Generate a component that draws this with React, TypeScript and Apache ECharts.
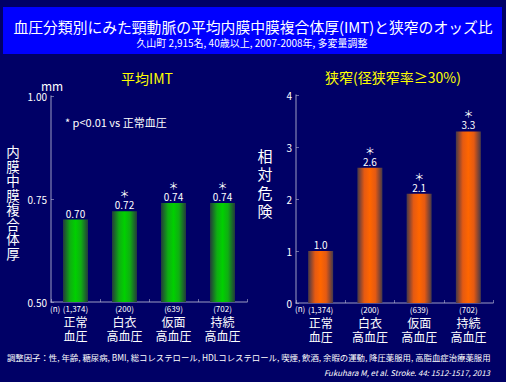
import React, { useEffect, useRef } from "react";
import * as echarts from "echarts";

const categories = ["正常\n血圧", "白衣\n高血圧", "仮面\n高血圧", "持続\n高血圧"];
const nLabels = ["(1,374)", "(200)", "(639)", "(702)"];
const imtValues = [0.7, 0.72, 0.74, 0.74];
const imtSig = [false, true, true, true];
const orValues = [1.0, 2.6, 2.1, 3.3];
const orSig = [false, true, true, true];
const imtTicks = { min: 0.5, max: 1.0, interval: 0.25 };
const orTicks = { min: 0, max: 4, interval: 1 };

const FONT = "'Noto Sans CJK JP', 'Noto Sans', sans-serif";
const BG = "#000066";
const AXIS = "rgba(190,190,215,0.55)";

function barGradient(edge: string, mid: string, center: string) {
  return new echarts.graphic.LinearGradient(0, 0, 1, 0, [
    { offset: 0, color: edge },
    { offset: 0.28, color: mid },
    { offset: 0.5, color: center },
    { offset: 0.72, color: mid },
    { offset: 1, color: edge },
  ]);
}

export default function App() {
  const ref = useRef<HTMLDivElement>(null);
  useEffect(() => {
    document.body.style.margin = "0";
    const chart = echarts.init(ref.current!, null, { renderer: "svg" });
    const xAxisCommon = (gridIndex: number) => ({
      type: "category" as const,
      gridIndex,
      data: categories,
      axisLine: { lineStyle: { color: AXIS, width: 1.5 } },
      axisTick: { show: true, inside: true, length: 3, lineStyle: { color: AXIS } },
      axisLabel: {
        margin: 0,
        interval: 0,
        formatter: (v: string, i: number) => {
          const [a, b] = v.split("\n");
          return `{n|${nLabels[i]}}\n{c|${a}}\n{c|${b}}`;
        },
        rich: {
          n: { fontSize: 8, lineHeight: 12, color: "#ffffff", fontFamily: FONT },
          c: { fontSize: 12, lineHeight: 14.5, color: "#ffffff", fontFamily: FONT },
        },
      },
    });
    const yAxisCommon = (gridIndex: number, t: any, dec: number) => ({
      type: "value" as const,
      gridIndex,
      min: t.min,
      max: t.max,
      interval: t.interval,
      splitLine: { show: false },
      axisLine: { show: true, lineStyle: { color: AXIS, width: 1.5 } },
      axisTick: { show: true, inside: true, length: 3, lineStyle: { color: AXIS } },
      axisLabel: {
        color: "#ffffff",
        fontSize: 10,
        fontFamily: FONT,
        margin: 4,
        formatter: (v: number) => v.toFixed(dec),
      },
    });
    const labelFor = (sig: boolean[], dec: number) => ({
      show: true,
      position: "top" as const,
      distance: 1,
      formatter: (p: any) =>
        sig[p.dataIndex] ? `{s|＊}\n{v|${Number(p.value).toFixed(dec)}}` : `{v|${Number(p.value).toFixed(dec)}}`,
      rich: {
        s: { fontSize: 10, lineHeight: 11, color: "#ffffff", fontFamily: FONT },
        v: { fontSize: 10, lineHeight: 11, color: "#ffffff", fontFamily: FONT },
      },
    });
    chart.setOption({
      animation: false,
      backgroundColor: BG,
      grid: [
        { left: 51, top: 96, width: 196, height: 206 },
        { left: 296, top: 95, width: 197, height: 208 },
      ],
      xAxis: [xAxisCommon(0), xAxisCommon(1)],
      yAxis: [yAxisCommon(0, imtTicks, 2), yAxisCommon(1, orTicks, 0)],
      series: [
        {
          type: "bar",
          xAxisIndex: 0,
          yAxisIndex: 0,
          data: imtValues,
          barWidth: 25,
          itemStyle: { color: barGradient("#233a3c", "#0fae12", "#00d000") },
          label: labelFor(imtSig, 2),
        },
        {
          type: "bar",
          xAxisIndex: 1,
          yAxisIndex: 1,
          data: orValues,
          barWidth: 25,
          itemStyle: { color: barGradient("#44384a", "#e55a12", "#ff6600") },
          label: labelFor(orSig, 1),
        },
      ],
      graphic: [
        { type: "rect", shape: { x: 3, y: 7, width: 499, height: 47 }, style: { fill: "#0000ff" } },
        {
          type: "text", x: 253, y: 26,
          style: { text: "血圧分類別にみた頸動脈の平均内膜中膜複合体厚(IMT)と狭窄のオッズ比", fill: "#ffffff", font: `14.8px ${FONT}`, align: "center", verticalAlign: "middle" },
        },
        {
          type: "text", x: 252, y: 42,
          style: { text: "久山町 2,915名, 40歳以上, 2007-2008年, 多変量調整", fill: "#ffffff", font: `10px ${FONT}`, align: "center", verticalAlign: "middle" },
        },
        {
          type: "text", x: 147, y: 78,
          style: { text: "平均IMT", fill: "#ffff00", font: `14px ${FONT}`, align: "center", verticalAlign: "middle" },
        },
        {
          type: "text", x: 393, y: 77,
          style: { text: "狭窄(径狭窄率≥30%)", fill: "#ffff00", font: `14px ${FONT}`, align: "center", verticalAlign: "middle" },
        },
        {
          type: "text", x: 52, y: 85,
          style: { text: "mm", fill: "#ffffff", font: `12px ${FONT}`, align: "center", verticalAlign: "middle" },
        },
        {
          type: "text", x: 65, y: 122,
          style: { text: "* p<0.01 vs 正常血圧", fill: "#ffffff", font: `11px ${FONT}`, align: "left", verticalAlign: "middle" },
        },
        {
          type: "text", x: 13, y: 202,
          style: { text: "内\n膜\n中\n膜\n複\n合\n体\n厚", fill: "#ffffff", font: `13.5px ${FONT}`, lineHeight: 14.5, align: "center", verticalAlign: "middle" },
        },
        {
          type: "text", x: 265, y: 183,
          style: { text: "相\n対\n危\n険", fill: "#ffffff", font: `15px ${FONT}`, lineHeight: 18.5, align: "center", verticalAlign: "middle" },
        },
        {
          type: "text", x: 50, y: 308,
          style: { text: "(n)", fill: "#ffffff", font: `8px ${FONT}`, align: "left", verticalAlign: "middle" },
        },
        {
          type: "text", x: 295, y: 308,
          style: { text: "(n)", fill: "#ffffff", font: `8px ${FONT}`, align: "left", verticalAlign: "middle" },
        },
        {
          type: "text", x: 7, y: 357,
          style: { text: "調整因子：性, 年齢, 糖尿病, BMI, 総コレステロール, HDLコレステロール, 喫煙, 飲酒, 余暇の運動, 降圧薬服用, 高脂血症治療薬服用", fill: "#ffffff", font: `8.4px ${FONT}`, align: "left", verticalAlign: "middle" },
        },
        {
          type: "text", x: 490, y: 372,
          style: { text: "Fukuhara M, et al. Stroke. 44: 1512-1517, 2013", fill: "#ffffff", font: `italic 7.9px ${FONT}`, align: "right", verticalAlign: "middle" },
        },
      ],
    });
    return () => chart.dispose();
  }, []);
  return <div ref={ref} style={{ position: "fixed", left: 0, top: 0, width: 506, height: 382 }} />;
}
